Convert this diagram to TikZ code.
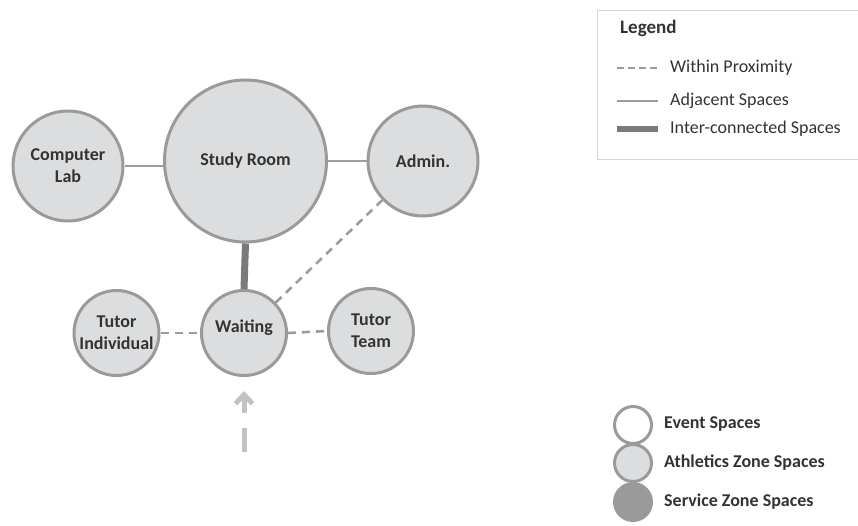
\documentclass[tikz,border=0pt]{standalone}
\usepackage{fontspec}
\setmainfont{Carlito}
\usetikzlibrary{arrows.meta}
\definecolor{spacefill}{HTML}{DCDDDE}
\definecolor{spaceline}{HTML}{9A9A9A}
\definecolor{linkgray}{HTML}{9C9C9C}
\definecolor{thickgray}{HTML}{7A7A7A}
\definecolor{entrygray}{HTML}{C2C2C2}
\definecolor{txt}{HTML}{333333}
\definecolor{boxline}{HTML}{D6D6D6}
\begin{document}
\begin{tikzpicture}[x=1pt,y=-1pt,
  space/.style={circle,draw=spaceline,fill=spacefill,line width=3pt,inner sep=0pt,
    text=txt,font=\bfseries\fontsize{18}{22}\selectfont,align=center},
  proximity/.style={draw=linkgray,line width=2.6pt,dash pattern=on 8pt off 6pt},
  adjacent/.style={draw=linkgray,line width=2pt},
  interconn/.style={draw=thickgray,line width=7pt},
  legtext/.style={anchor=west,text=txt,font=\fontsize{18}{21}\selectfont,inner sep=0pt},
  keytext/.style={anchor=west,text=txt,font=\bfseries\fontsize{18}{21}\selectfont,inner sep=0pt},
  keydot/.style={circle,line width=3pt,inner sep=0pt,minimum size=37pt}]
\useasboundingbox (0,0) rectangle (858,525);

% spaces
\node[space,minimum size=110pt] (lab) at (68,166) {Computer\\Lab};
\node[space,minimum size=162pt] (study) at (245.5,161) {Study Room};
\node[space,minimum size=110pt] (admin) at (423,161) {Admin.};
\node[space,minimum size=85pt] (waiting) at (244,333) {};
\node[text=txt,font=\bfseries\fontsize{18}{22}\selectfont,inner sep=0pt] (waitlbl) at (244,328) {Waiting};
\node[space,minimum size=85pt] (tind) at (116.5,333) {Tutor\\Individual};
\node[space,minimum size=85pt] (tteam) at (371,331) {Tutor\\Team};

% relations between spaces
\draw[adjacent] (lab.east) -- (lab.east -| study.west);
\draw[adjacent] (study.east |- admin.west) -- (admin.west);
\draw[interconn] (study.south) -- (waiting.north);
\draw[proximity] (waiting) -- (admin);
\draw[proximity] (tind.east) -- (waiting.west);
\draw[proximity] (waiting.east) -- (tteam.west);

% entrance
\coordinate (entry) at (244,452);
\draw[draw=entrygray,line width=5pt,dash pattern=on 24pt off 15pt,shorten >=14pt,
  -{Straight Barb[length=9pt,width=17pt,line width=5pt]}] (entry) -- (waiting.south);

% legend for relations
\draw[draw=boxline,line width=1pt,fill=white] (597,10) rectangle (870,159);
\node[anchor=west,text=txt,font=\bfseries\fontsize{19}{22}\selectfont,inner sep=0pt] (legtitle) at (620,28) {Legend};
\coordinate (l1a) at (617,68); \coordinate (l1b) at (658,68);
\coordinate (l2a) at (617,101); \coordinate (l2b) at (658,101);
\coordinate (l3a) at (617,129); \coordinate (l3b) at (658,129);
\draw[draw=linkgray,line width=2pt,dash pattern=on 7pt off 4pt] (l1a) -- (l1b);
\draw[draw=linkgray,line width=2pt] (l2a) -- (l2b);
\draw[draw=thickgray,line width=6pt] (l3a) -- (l3b);
\node[legtext] (t1) at (670,68) {Within Proximity};
\node[legtext] (t2) at (670,101) {Adjacent Spaces};
\node[legtext] (t3) at (670,129) {Inter-connected Spaces};

% legend for zones
\node[keydot,draw=spaceline,fill=white] (k1) at (633,425) {};
\node[keydot,draw=spaceline,fill=spacefill] (k2) at (633,463) {};
\node[keydot,draw=spaceline,fill=spaceline] (k3) at (633,502) {};
\node[keytext] (k1t) at (664,424) {Event Spaces};
\node[keytext] (k2t) at (664,463) {Athletics Zone Spaces};
\node[keytext] (k3t) at (664,502) {Service Zone Spaces};
\end{tikzpicture}
\end{document}
